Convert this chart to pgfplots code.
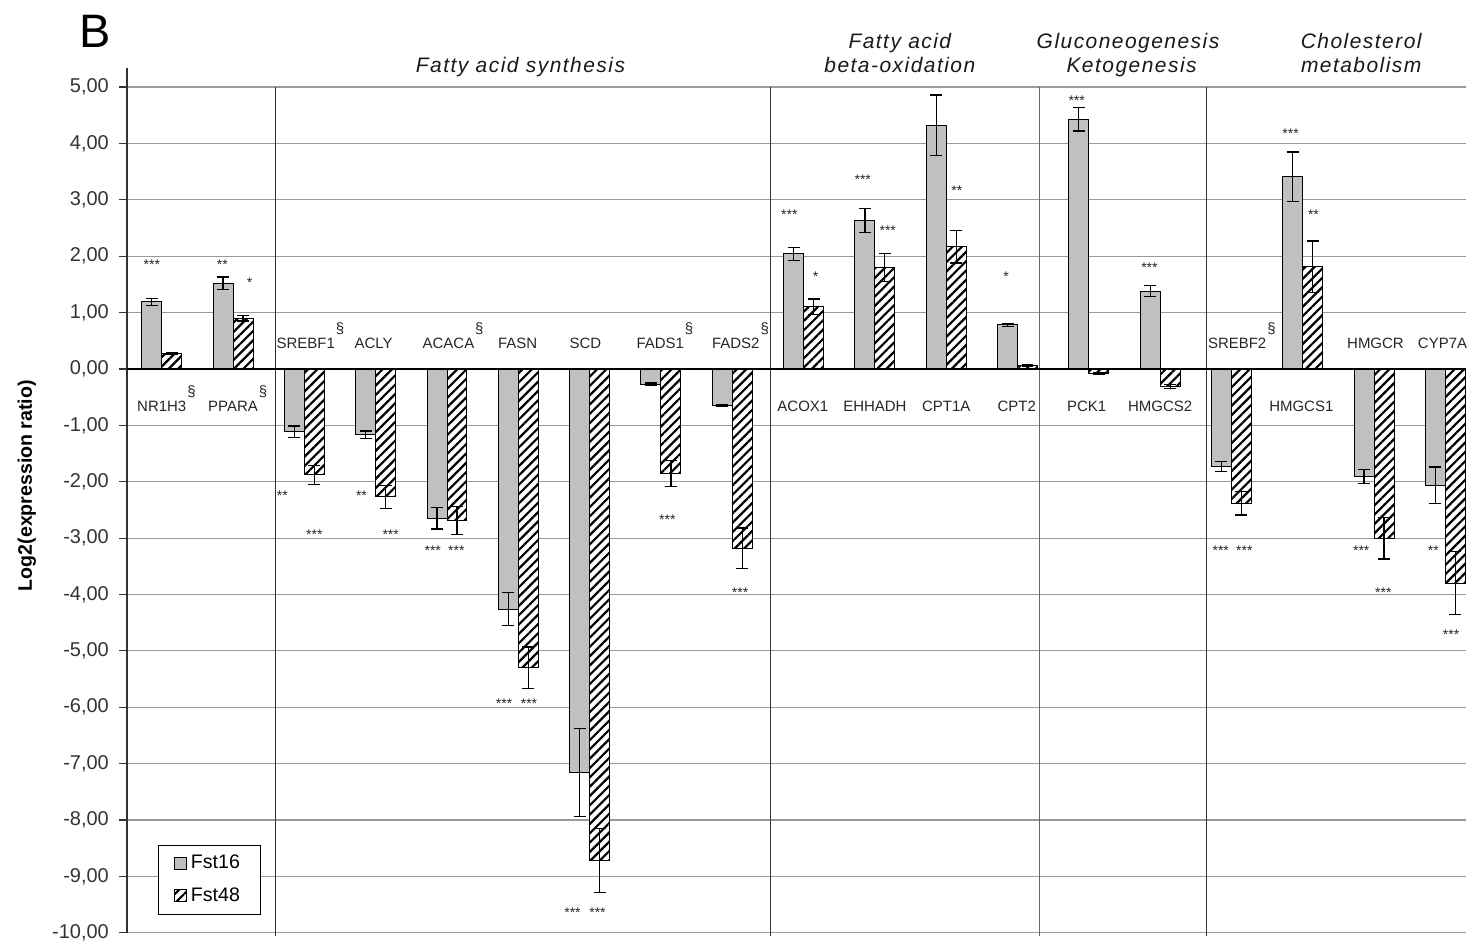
\documentclass[border=0pt]{standalone}
\usepackage{pgfplots}
\pgfplotsset{compat=1.18}
\usepackage{fontspec}
\setmainfont{Liberation Sans}
\usetikzlibrary{patterns.meta}
\definecolor{barg}{HTML}{C0C0C0}
\definecolor{gridg}{HTML}{9A9A9A}
\tikzset{
  hatch/.style={fill=white, postaction={pattern={Lines[angle=45,distance=3.3pt,line width=1.1pt]}, pattern color=black}},
  st/.style={font=\fontsize{7}{7}\selectfont, inner sep=0pt, anchor=center, yshift=-1.4pt, text=black!85},
  gl/.style={font=\fontsize{7.5}{8}\selectfont, inner sep=0pt, anchor=base, text=black!85},
  grp/.style={font=\fontsize{10.5}{12}\selectfont\itshape\addfontfeatures{LetterSpace=7}, inner sep=0pt, anchor=base, text=black!90},
}
\newcommand{\sect}{\rlap{\raisebox{7.5pt}{\kern0.5pt§}}}
\begin{document}
\begin{tikzpicture}
\begin{axis}[
  name=ax,
  scale only axis, width=670.5pt, height=433pt,
  xmin=-0.49, xmax=18.29, ymin=-10, ymax=5.34,
  axis y line*=left, axis x line=none,
  ytick={-10,-9,...,5},
  ymajorgrids, major grid style={gridg, line width=0.6pt},
  tick align=outside, major tick length=4pt,
  ytick style={black!80, line width=0.6pt},
  y axis line style={black!80, line width=0.7pt, -},
  yticklabel style={font=\fontsize{10}{12}\selectfont, text=black!80, xshift=-1.5pt, /pgf/number format/.cd, fixed, fixed zerofill, precision=2, use comma, assume math mode=true},
  ylabel={Log2(expression ratio)},
  ylabel style={font=\fontsize{9.8}{11}\selectfont\bfseries, at={(axis description cs:-0.0746,0.517)}, anchor=center},
  clip=false,
  ybar=0pt, bar width=10pt,
  legend style={at={(axis description cs:0.023,0.021)}, anchor=south west, draw=black, font=\fontsize{9.8}{11}\selectfont, legend cell align=left, row sep=4pt, inner xsep=8pt, inner ysep=3pt},
  legend image code/.code={\draw[#1] (0pt,-3pt) rectangle (6pt,3pt);},
  error bars/y dir=both, error bars/y explicit,
  error bars/error bar style={black, line width=0.6pt},
  error bars/error mark options={black, line width=0.6pt, mark size=3pt, rotate=90},
]
% group separators
\draw[black!80, line width=0.6pt] (axis cs:1.59,5) -- (axis cs:1.59,-10.05);
\draw[black!80, line width=0.6pt] (axis cs:8.54,5) -- (axis cs:8.54,-10.05);
\draw[black!60, line width=0.7pt] (axis cs:12.31,5) -- (axis cs:12.31,-10.05);
\draw[black!80, line width=0.6pt] (axis cs:14.65,5) -- (axis cs:14.65,-10.05);

\addplot[fill=barg, draw=black, line width=0.5pt] coordinates {
(0,1.19) +- (0,0.065)
(1,1.52) +- (0,0.11)
(2,-1.11) +- (0,0.10)
(3,-1.17) +- (0,0.07)
(4,-2.65) +- (0,0.19)
(5,-4.26) +- (0,0.29)
(6,-7.16) +- (0,0.78)
(7,-0.27) +- (0,0.02)
(8,-0.65) +- (0,0.02)
(9,2.04) +- (0,0.12)
(10,2.63) +- (0,0.21)
(11,4.32) +- (0,0.54)
(12,0.78) +- (0,0.02)
(13,4.43) +- (0,0.21)
(14,1.38) +- (0,0.10)
(15,-1.73) +- (0,0.09)
(16,3.41) +- (0,0.44)
(17,-1.91) +- (0,0.12)
(18,-2.06) +- (0,0.32)
};
\addlegendentry{Fst16}
\addplot[hatch, draw=black, line width=0.5pt] coordinates {
(0,0.27) +- (0,0.02)
(1,0.90) +- (0,0.05)
(2,-1.88) +- (0,0.17)
(3,-2.27) +- (0,0.21)
(4,-2.69) +- (0,0.25)
(5,-5.30) +- (0,0.37)
(6,-8.72) +- (0,0.57)
(7,-1.85) +- (0,0.23)
(8,-3.18) +- (0,0.36)
(9,1.10) +- (0,0.14)
(10,1.80) +- (0,0.25)
(11,2.17) +- (0,0.29)
(12,0.06) +- (0,0.02)
(13,-0.08) +- (0,0.02)
(14,-0.31) +- (0,0.03)
(15,-2.38) +- (0,0.21)
(16,1.81) +- (0,0.46)
(17,-3.00) +- (0,0.37)
(18,-3.80) +- (0,0.56)
};
\addlegendentry{Fst48}

\draw[black, line width=0.8pt] (axis cs:-0.49,0) -- (axis cs:18.29,0);

% gene labels
\node[gl] at (axis cs:0,-0.76) {NR1H3\sect};
\node[gl] at (axis cs:1,-0.76) {PPARA\sect};
\node[gl] at (axis cs:2.02,0.37) {SREBF1\sect};
\node[gl] at (axis cs:2.97,0.37) {ACLY};
\node[gl] at (axis cs:4.02,0.37) {ACACA\sect};
\node[gl] at (axis cs:4.99,0.37) {FASN};
\node[gl] at (axis cs:5.94,0.37) {SCD};
\node[gl] at (axis cs:6.99,0.37) {FADS1\sect};
\node[gl] at (axis cs:8.05,0.37) {FADS2\sect};
\node[gl] at (axis cs:8.99,-0.76) {ACOX1};
\node[gl] at (axis cs:10,-0.76) {EHHADH};
\node[gl] at (axis cs:11,-0.76) {CPT1A};
\node[gl] at (axis cs:11.99,-0.76) {CPT2};
\node[gl] at (axis cs:12.97,-0.76) {PCK1};
\node[gl] at (axis cs:14,-0.76) {HMGCS2};
\node[gl] at (axis cs:15.08,0.37) {SREBF2\sect};
\node[gl] at (axis cs:15.98,-0.76) {HMGCS1};
\node[gl] at (axis cs:17.02,0.37) {HMGCR};
\node[gl] at (axis cs:17.96,0.37) {CYP7A};

% group titles
\node[grp] at (axis cs:5.03,5.26) {Fatty acid synthesis};
\node[grp] at (axis cs:10.35,5.69) {Fatty acid};
\node[grp] at (axis cs:10.35,5.26) {beta-oxidation};
\node[grp] at (axis cs:13.55,5.69) {Gluconeogenesis};
\node[grp] at (axis cs:13.60,5.26) {Ketogenesis};
\node[grp] at (axis cs:16.82,5.69) {Cholesterol};
\node[grp] at (axis cs:16.82,5.26) {metabolism};

% panel letter
\node[font=\fontsize{23.5}{26}\selectfont, anchor=base, inner sep=0pt] at (axis cs:-0.94,5.70) {B};

% significance marks
\node[st] at (axis cs:-0.14,1.90) {***};
\node[st] at (axis cs:0.85,1.90) {**};
\node[st] at (axis cs:1.23,1.58) {*};
\node[st] at (axis cs:1.69,-2.20) {**};
\node[st] at (axis cs:2.14,-2.89) {***};
\node[st] at (axis cs:2.80,-2.20) {**};
\node[st] at (axis cs:3.21,-2.89) {***};
\node[st] at (axis cs:3.80,-3.17) {***};
\node[st] at (axis cs:4.13,-3.17) {***};
\node[st] at (axis cs:4.80,-5.88) {***};
\node[st] at (axis cs:5.15,-5.88) {***};
\node[st] at (axis cs:5.76,-9.59) {***};
\node[st] at (axis cs:6.11,-9.59) {***};
\node[st] at (axis cs:7.09,-2.62) {***};
\node[st] at (axis cs:8.11,-3.92) {***};
\node[st] at (axis cs:8.80,2.78) {***};
\node[st] at (axis cs:9.17,1.68) {*};
\node[st] at (axis cs:9.83,3.40) {***};
\node[st] at (axis cs:10.18,2.50) {***};
\node[st] at (axis cs:11.15,3.22) {**};
\node[st] at (axis cs:11.84,1.68) {*};
\node[st] at (axis cs:12.83,4.80) {***};
\node[st] at (axis cs:13.85,1.84) {***};
\node[st] at (axis cs:14.85,-3.17) {***};
\node[st] at (axis cs:15.18,-3.17) {***};
\node[st] at (axis cs:15.83,4.22) {***};
\node[st] at (axis cs:16.15,2.78) {**};
\node[st] at (axis cs:16.82,-3.17) {***};
\node[st] at (axis cs:17.13,-3.92) {***};
\node[st] at (axis cs:17.83,-3.17) {**};
\node[st] at (axis cs:18.08,-4.66) {***};
\end{axis}
\path[use as bounding box] ([shift={(-63.5pt,-5pt)}]ax.south west) rectangle ([shift={(0pt,34pt)}]ax.north east);
\end{tikzpicture}
\end{document}
